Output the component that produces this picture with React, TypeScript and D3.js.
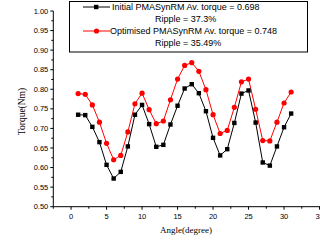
import React from "react";
import * as d3 from "d3";

const angles = [1,2,3,4,5,6,7,8,9,10,11,12,13,14,15,16,17,18,19,20,21,22,23,24,25,26,27,28,29,30,31];
const initialTorque = [0.735,0.734,0.704,0.665,0.607,0.572,0.589,0.654,0.735,0.760,0.711,0.653,0.658,0.710,0.758,0.802,0.813,0.790,0.744,0.676,0.631,0.647,0.714,0.789,0.797,0.715,0.613,0.605,0.654,0.703,0.738];
const optimisedTorque = [0.789,0.787,0.760,0.716,0.662,0.620,0.631,0.691,0.763,0.790,0.748,0.712,0.719,0.773,0.826,0.861,0.868,0.846,0.799,0.735,0.687,0.695,0.754,0.819,0.826,0.749,0.669,0.668,0.716,0.765,0.793];
const xTicks = [0,5,10,15,20,25,30,35];
const yTicks = [0.5,0.55,0.6,0.65,0.7,0.75,0.8,0.85,0.9,0.95,1.0];
const legendLines = [
  "Initial PMASynRM Av. torque = 0.698",
  "Ripple = 37.3%",
  "Optimised PMASynRM Av. torque = 0.748",
  "Ripple = 35.49%",
];

export default function App() {
  const x = d3.scaleLinear().domain([-2.5, 37.5]).range([53.3, 337.3]);
  const y = d3.scaleLinear().domain([0.5, 1.0]).range([206.7, 11]);
  const line = d3.line<number>().x((_, i) => x(angles[i])).y((d) => y(d));
  const xMinor = d3.range(-2.5, 37.6, 2.5).filter((v) => !xTicks.includes(v));
  const yMinor = d3.range(0.525, 1.0, 0.05);
  const sans = "Liberation Sans, Arial, sans-serif";
  const serif = "Liberation Serif, Times New Roman, serif";
  return (
    <svg width={320} height={240} style={{ position: "absolute", left: 0, top: 0, background: "#fff" }}>
      <rect x={0} y={0} width={320} height={240} fill="#fff" />
      {/* axes */}
      <line x1={x(-2.5)} x2={320} y1={y(0.5)} y2={y(0.5)} stroke="#000" strokeWidth={1} />
      <line x1={x(-2.5)} x2={x(-2.5)} y1={y(0.5)} y2={y(1.0)} stroke="#000" strokeWidth={1} />
      {xTicks.map((t) => (
        <g key={"xt" + t}>
          <line x1={x(t)} x2={x(t)} y1={y(0.5)} y2={y(0.5) + 3} stroke="#000" />
          <text x={x(t)} y={219} fontSize={7.5} fontFamily={sans} textAnchor="middle">{t}</text>
        </g>
      ))}
      {xMinor.map((t) => (
        <line key={"xm" + t} x1={x(t)} x2={x(t)} y1={y(0.5)} y2={y(0.5) + 2} stroke="#000" />
      ))}
      {yTicks.map((t) => (
        <g key={"yt" + t}>
          <line x1={x(-2.5) - 3} x2={x(-2.5)} y1={y(t)} y2={y(t)} stroke="#000" />
          <text x={x(-2.5) - 5} y={y(t) + 2.6} fontSize={7.5} fontFamily={sans} textAnchor="end">{t.toFixed(2)}</text>
        </g>
      ))}
      {yMinor.map((t) => (
        <line key={"ym" + t} x1={x(-2.5) - 2} x2={x(-2.5)} y1={y(t)} y2={y(t)} stroke="#000" />
      ))}
      <text x={186} y={233} fontSize={9} fontFamily={serif} textAnchor="middle">Angle(degree)</text>
      <text transform="translate(25,111.5) rotate(-90)" fontSize={9.5} fontFamily={serif} textAnchor="middle">Torque(Nm)</text>
      {/* series */}
      <path d={line(optimisedTorque) || ""} fill="none" stroke="#ff0000" strokeWidth={1} />
      {optimisedTorque.map((v, i) => (
        <circle key={"o" + i} cx={x(angles[i])} cy={y(v)} r={2.6} fill="#ff0000" />
      ))}
      <path d={line(initialTorque) || ""} fill="none" stroke="#000" strokeWidth={1} />
      {initialTorque.map((v, i) => (
        <rect key={"b" + i} x={x(angles[i]) - 2.2} y={y(v) - 2.2} width={4.4} height={4.4} fill="#000" />
      ))}
      {/* legend */}
      <rect x={69.5} y={1.5} width={238} height={50.5} fill="#fff" stroke="#000" strokeWidth={1} />
      <line x1={83} x2={110} y1={7} y2={7} stroke="#000" />
      <rect x={94} y={4.8} width={4.4} height={4.4} fill="#000" />
      <line x1={83} x2={110} y1={31} y2={31} stroke="#ff0000" />
      <circle cx={96.5} cy={31} r={2.6} fill="#ff0000" />
      <text x={112} y={10} fontSize={9} fontFamily={sans}>{legendLines[0]}</text>
      <text x={155} y={22} fontSize={9} fontFamily={sans}>{legendLines[1]}</text>
      <text x={110} y={34} fontSize={9} fontFamily={sans}>{legendLines[2]}</text>
      <text x={155} y={46} fontSize={9} fontFamily={sans}>{legendLines[3]}</text>
    </svg>
  );
}
